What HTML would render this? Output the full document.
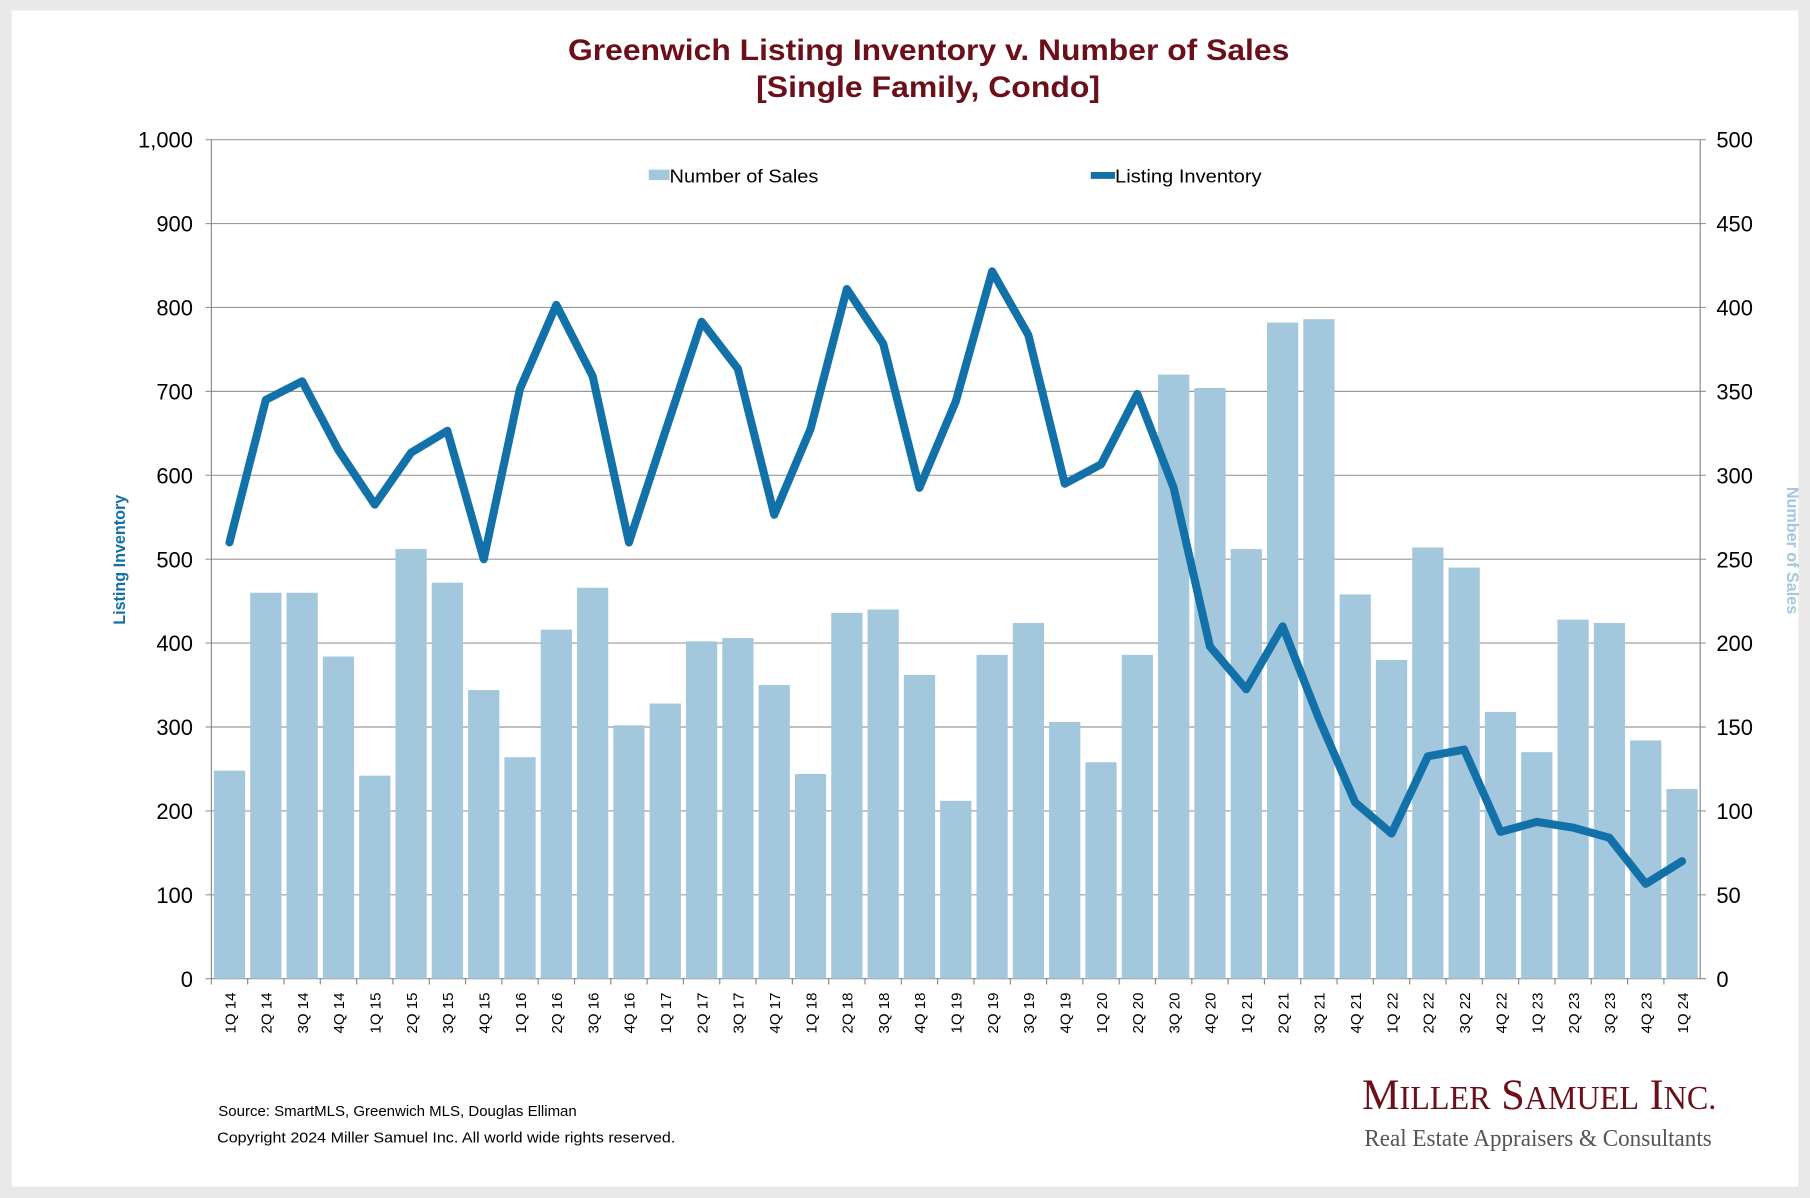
<!DOCTYPE html>
<html><head><meta charset="utf-8"><style>
html,body{margin:0;padding:0;background:#e9e9e9;}
svg{display:block;font-family:"Liberation Sans",Arial,sans-serif;}
</style></head><body>
<svg id="chart" width="1810" height="1198" viewBox="0 0 1568 1038" xmlns="http://www.w3.org/2000/svg">
<rect x="0" y="0" width="1568" height="1038" fill="#e9e9e9"/>
<rect x="10" y="9" width="1548" height="1019" fill="#fff"/>
<text x="492" y="52" textLength="625" lengthAdjust="spacingAndGlyphs" font-size="26" font-weight="bold" fill="#6b0f1a">Greenwich Listing Inventory v. Number of Sales</text>
<text x="655" y="84" textLength="298" lengthAdjust="spacingAndGlyphs" font-size="26" font-weight="bold" fill="#6b0f1a">[Single Family, Condo]</text>
<g id="grid"></g><g id="bars"></g><g id="axes"></g><g id="line"></g>
<g>
<rect x="562" y="147" width="18" height="9" fill="#a3c7dc"/>
<text x="580" y="158" font-size="16" textLength="129" lengthAdjust="spacingAndGlyphs">Number of Sales</text>
<line x1="945" y1="152" x2="966" y2="152" stroke="#1271a8" stroke-width="6"/>
<text x="966" y="158" font-size="16" textLength="127" lengthAdjust="spacingAndGlyphs">Listing Inventory</text>
</g>
<text transform="translate(108,485) rotate(-90)" text-anchor="middle" font-size="14" font-weight="bold" fill="#1271a8">Listing Inventory</text>
<text transform="translate(1548,477) rotate(90)" text-anchor="middle" font-size="14" font-weight="bold" fill="#a3c7dc">Number of Sales</text>
<text x="189" y="967" font-size="13">Source: SmartMLS, Greenwich MLS, Douglas Elliman</text>
<text x="188" y="990" font-size="13" textLength="397" lengthAdjust="spacingAndGlyphs">Copyright 2024 Miller Samuel Inc.  All world wide rights reserved.</text>
<text x="1180" y="961" textLength="307" lengthAdjust="spacingAndGlyphs" font-family="Liberation Serif,serif" font-size="38" fill="#6b0f1a">M<tspan font-size="29">ILLER</tspan> S<tspan font-size="29">AMUEL</tspan> I<tspan font-size="29">NC.</tspan></text>
<text x="1182" y="993" textLength="301" lengthAdjust="spacingAndGlyphs" font-family="Liberation Serif,serif" font-size="21" fill="#555">Real Estate Appraisers &amp; Consultants</text>
</svg>
<script>
const categories=["1Q 14","2Q 14","3Q 14","4Q 14","1Q 15","2Q 15","3Q 15","4Q 15","1Q 16","2Q 16","3Q 16","4Q 16","1Q 17","2Q 17","3Q 17","4Q 17","1Q 18","2Q 18","3Q 18","4Q 18","1Q 19","2Q 19","3Q 19","4Q 19","1Q 20","2Q 20","3Q 20","4Q 20","1Q 21","2Q 21","3Q 21","4Q 21","1Q 22","2Q 22","3Q 22","4Q 22","1Q 23","2Q 23","3Q 23","4Q 23","1Q 24"];
const sales=[124,230,230,192,121,256,236,172,132,208,233,151,164,201,203,175,122,218,220,181,106,193,212,153,129,193,360,352,256,391,393,229,190,257,245,159,135,214,212,142,113];
const inventory=[520,690,712,630,565,627,653,500,703,803,718,520,652,783,727,553,655,822,757,585,688,843,767,590,613,697,585,396,345,420,310,210,173,265,273,175,187,180,168,113,140];
const leftTicks=["0","100","200","300","400","500","600","700","800","900","1,000"];
const rightTicks=["0","50","100","150","200","250","300","350","400","450","500"];
const NS="http://www.w3.org/2000/svg";
const X0=183,X1=1473,Y0=848,Y1=121;
const bw=(X1-X0)/categories.length;
const yL=v=>Y0-(v/1000)*(Y0-Y1);
const yR=v=>Y0-(v/500)*(Y0-Y1);
const xC=i=>X0+bw*(i+0.5);
function mk(t,a,p){const e=document.createElementNS(NS,t);for(const k in a)e.setAttribute(k,a[k]);p.appendChild(e);return e;}
const grid=document.getElementById('grid'),bars=document.getElementById('bars'),axes=document.getElementById('axes'),lineG=document.getElementById('line');
leftTicks.forEach((t,i)=>{const y=yL(i*100);
 const g=mk('line',{x1:X0-5,x2:X1+5,y1:y,y2:y,stroke:i==0?'#888':'#999','stroke-width':1},grid);
 
 
 const l=mk('text',{x:X0-16,y:y+7,'text-anchor':'end','font-size':19},axes);l.textContent=t;
 
 
 const r=mk('text',{x:X1+14,y:y+7,'font-size':19},axes);r.textContent=rightTicks[i];
 
 
});
mk('line',{x1:X0,x2:X0,y1:Y1,y2:Y0,stroke:'#888'},axes);
mk('line',{x1:X1,x2:X1,y1:Y1,y2:Y0,stroke:'#888'},axes);
categories.forEach((c,i)=>{
 const v=sales[i],y=yR(v);
 const b=mk('rect',{x:X0+bw*i+2.2,y:y,width:bw-4.4,height:Y0-y,fill:'#a3c7dc'},bars);
 
 
 mk('line',{x1:X0+bw*i,x2:X0+bw*i,y1:Y0,y2:Y0+5,stroke:'#888'},axes);
 const t=mk('text',{transform:`translate(${xC(i)+5},${Y0+12}) rotate(-90)`,'text-anchor':'end','font-size':13},axes);
 t.textContent=c;
 
 
});
const pts=inventory.map((v,i)=>xC(i).toFixed(1)+','+yL(v).toFixed(1)).join(' ');
const pl=mk('polyline',{points:pts,fill:'none',stroke:'#1271a8','stroke-width':7,'stroke-linejoin':'round','stroke-linecap':'round'},lineG);


</script>
</body></html>
